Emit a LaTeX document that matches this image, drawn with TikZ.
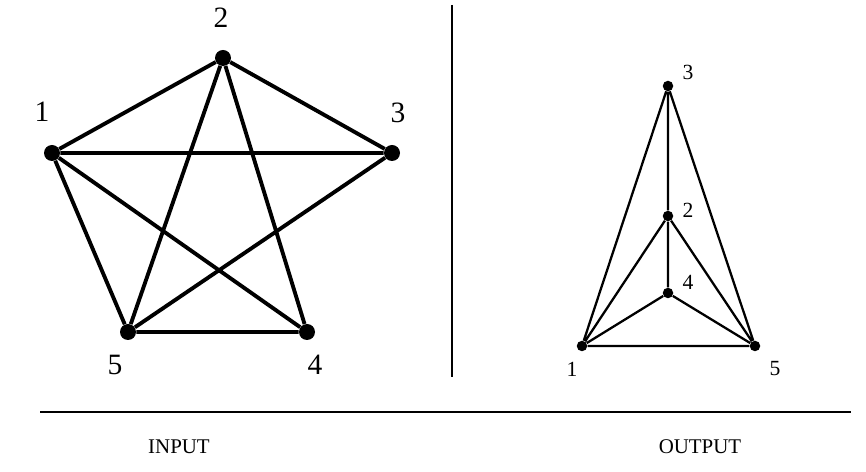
\documentclass[tikz,border=0pt]{standalone}
\usepackage{fontspec}
\setmainfont{Liberation Serif}

\tikzset{
	bigvtx/.style={circle, fill, inner sep=0pt, minimum size=0.32cm},
	smallvtx/.style={circle, fill, inner sep=0pt, minimum size=0.21cm},
	biglbl/.style={font=\fontsize{16.8}{20}\selectfont, inner sep=0pt},
	smalllbl/.style={font=\fontsize{12.3}{15}\selectfont, inner sep=0pt},
	caption/.style={font=\fontsize{11.9}{14}\selectfont, inner sep=0pt}
}

\begin{document}
\begin{tikzpicture}[x=0.02cm, y=-0.02cm]
		\useasboundingbox (0,0) rectangle (866,472);

		\node (A1) [bigvtx] at (52,153) {};
		\node (A2) [bigvtx] at (223,58) {};
		\node (A3) [bigvtx] at (392,153) {};
		\node (A4) [bigvtx] at (307,332) {};
		\node (A5) [bigvtx] at (128,332) {};
		\node (LA1) [biglbl] at (42,112) {1};
		\node (LA2) [biglbl] at (221,18) {2};
		\node (LA3) [biglbl] at (398,113) {3};
		\node (LA4) [biglbl] at (315,365) {4};
		\node (LA5) [biglbl] at (115,365) {5};

		\draw [line width=2.2pt] (A1) -- (A2) (A2) -- (A3) (A1) -- (A3)
			(A1) -- (A5) (A1) -- (A4) (A2) -- (A5) (A2) -- (A4)
			(A3) -- (A5) (A5) -- (A4);

		\coordinate (Vtop) at (452,5);
		\coordinate (Vbot) at (452,377);
		\draw [line width=0.8pt] (Vtop) -- (Vbot);

		\node (B3) [smallvtx] at (668,86) {};
		\node (B2) [smallvtx] at (668,216) {};
		\node (B4) [smallvtx] at (668,293) {};
		\node (B1) [smallvtx] at (582,346) {};
		\node (B5) [smallvtx] at (755,346) {};
		\node (LB3) [smalllbl] at (688,72) {3};
		\node (LB2) [smalllbl] at (688,210) {2};
		\node (LB4) [smalllbl] at (688,282) {4};
		\node (LB1) [smalllbl] at (572,369) {1};
		\node (LB5) [smalllbl] at (775,369) {5};

		\draw [line width=1.3pt] (B3) -- (B2) (B2) -- (B4) (B3) -- (B1) (B3) -- (B5)
			(B2) -- (B1) (B2) -- (B5) (B4) -- (B1) (B4) -- (B5) (B1) -- (B5);

		\coordinate (Hleft) at (40,412);
		\coordinate (Hright) at (851,412);
		\draw [line width=0.8pt] (Hleft) -- (Hright);

		\node (In) [caption] at (179,447) {INPUT};
		\node (Out) [caption] at (700,447) {OUTPUT};
	\end{tikzpicture}
\end{document}
